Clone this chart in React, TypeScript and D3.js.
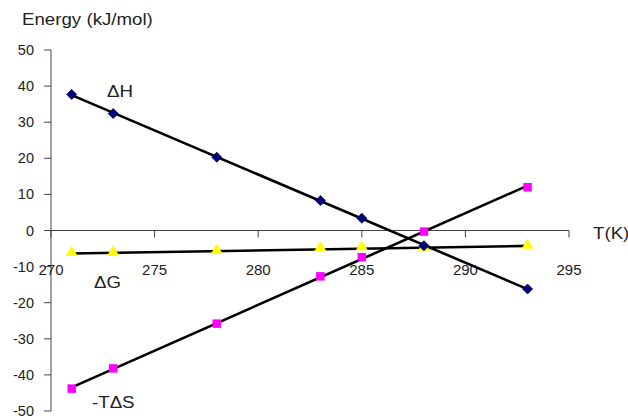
import * as d3 from "d3";

const temps = [271, 273, 278, 283, 285, 288, 293];
const dH = [37.7, 32.4, 20.3, 8.3, 3.4, -4.2, -16.2];
const mTdS = [-43.8, -38.2, -25.8, -12.7, -7.4, -0.3, 12.0];
const dG = [-6.4, -6.3, -5.8, -5.0, -4.8, -4.9, -4.4];
const xTicks = [270, 275, 280, 285, 290, 295];
const yTicks = [50, 40, 30, 20, 10, 0, -10, -20, -30, -40, -50];

const W = 628;
const H = 420;
const font = "Arial, 'Liberation Sans', sans-serif";

// least squares trend line, like the spreadsheet's linear trendline
const fit = (xs: number[], ys: number[]) => {
  const mx = d3.mean(xs)!;
  const my = d3.mean(ys)!;
  const slope =
    d3.sum(xs, (x, i) => (x - mx) * (ys[i] - my)) / d3.sum(xs, (x) => (x - mx) ** 2);
  return (x: number) => my + slope * (x - mx);
};

// text in the picture is a bit wider than plain Arial
const Label = ({ x, y, size, children }: { x: number; y: number; size: number; children: string }) => (
  <text transform={`translate(${x},${y}) scale(1.1,1)`} fontSize={size} fill="#222">
    {children}
  </text>
);

export default function App() {
  const x = d3.scaleLinear().domain([270, 295]).range([51, 569]);
  const y = d3.scaleLinear().domain([50, -50]).range([50, 411]);

  const trend = (vals: number[]) => {
    const f = fit(temps, vals);
    return d3
      .line<number>()
      .x((t) => x(t))
      .y((t) => y(f(t)))([temps[0], temps[temps.length - 1]]) as string;
  };

  const diamond = "M0,-5L5,0L0,5L-5,0Z";
  const square = d3.symbol(d3.symbolSquare, 72)() as string;
  const triangle = d3.symbol(d3.symbolTriangle, 62)() as string;

  return (
    <svg
      width={W}
      height={H}
      style={{ position: "absolute", left: 0, top: 0, background: "#fff" }}
      fontFamily={font}
    >
      <Label x={22} y={25} size={17}>
        Energy (kJ/mol)
      </Label>

      {/* y axis */}
      <line x1={51} x2={51} y1={y(50)} y2={y(-50)} stroke="#444" strokeWidth={1} />
      {yTicks.map((v) => (
        <g key={v}>
          <line x1={44} x2={51} y1={y(v)} y2={y(v)} stroke="#444" strokeWidth={1} />
          <text
            x={34}
            y={y(v)}
            dy="0.35em"
            textAnchor="end"
            fontSize={14.5}
            fill="#222"
          >
            {v}
          </text>
        </g>
      ))}

      {/* x axis */}
      <line x1={x(270)} x2={x(295)} y1={y(0)} y2={y(0)} stroke="#444" strokeWidth={1} />
      {xTicks.map((t) => (
        <g key={t}>
          <line x1={x(t)} x2={x(t)} y1={y(0)} y2={y(0) + 7} stroke="#444" strokeWidth={1} />
          <text
            x={x(t)}
            y={y(0) + 44}
            textAnchor="middle"
            fontSize={15}
            fill="#222"
          >
            {t}
          </text>
        </g>
      ))}
      <Label x={593} y={y(0) + 8} size={17}>
        T(K)
      </Label>

      {/* trend lines */}
      <path d={trend(dH)} stroke="#000" strokeWidth={2.6} fill="none" />
      <path d={trend(mTdS)} stroke="#000" strokeWidth={2.6} fill="none" />
      <path d={trend(dG)} stroke="#000" strokeWidth={2.6} fill="none" />

      {/* markers */}
      {temps.map((t, i) => (
        <path
          key={"g" + t}
          d={triangle}
          transform={`translate(${x(t)},${y(dG[i]) - 1})`}
          fill="#ffff00"
        />
      ))}
      {temps.map((t, i) => (
        <path
          key={"s" + t}
          d={square}
          transform={`translate(${x(t)},${y(mTdS[i])})`}
          fill="#ff00ff"
        />
      ))}
      {temps.map((t, i) => (
        <path
          key={"h" + t}
          d={diamond}
          transform={`translate(${x(t)},${y(dH[i])})`}
          fill="#000080"
          stroke="#000040"
          strokeWidth={0.8}
        />
      ))}

      {/* series labels */}
      <Label x={107} y={97} size={17}>
        ΔH
      </Label>
      <Label x={94} y={288} size={17}>
        ΔG
      </Label>
      <Label x={92} y={408} size={17}>
        -TΔS
      </Label>
    </svg>
  );
}
